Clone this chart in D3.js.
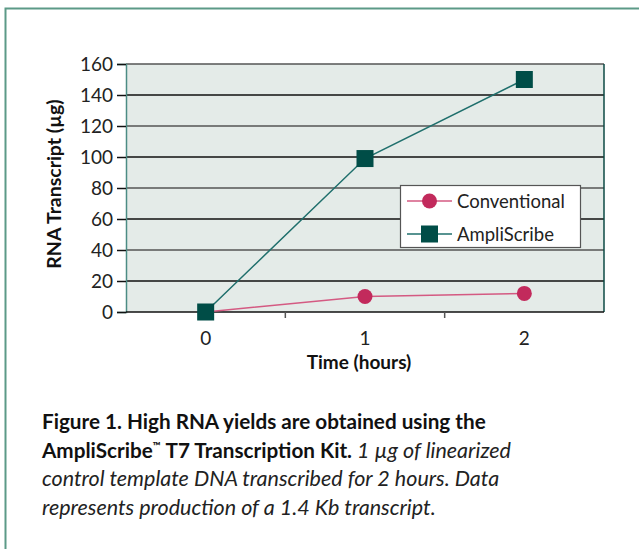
<!DOCTYPE html>
<html><head><meta charset="utf-8">
<script src="https://cdn.jsdelivr.net/npm/d3@7/dist/d3.min.js"></script>
<style>body{margin:0;background:#fff}svg{display:block}</style>
</head><body>
<svg id="c" width="639" height="549"></svg>
<script>
const categories = ["0", "1", "2"];
const conventional = [0, 10, 12];
const ampliscribe = [0, 99, 150];
const yTicks = [0, 20, 40, 60, 80, 100, 120, 140, 160];
const seriesNames = ["Conventional", "AmpliScribe"];
const captionLines = [
  [{t:"Figure 1. High RNA yields are obtained using the", b:true}],
  [{t:"AmpliScribe", b:true},{t:"™", b:true, sup:true},{t:" T7 Transcription Kit.", b:true, down:true},{t:" 1 µg of linearized", i:true}],
  [{t:"control template DNA transcribed for 2 hours. Data", i:true}],
  [{t:"represents production of a 1.4 Kb transcript.", i:true}]
];

const svg = d3.select("#c");
const L = 126, R = 604, T = 64, B = 312;
const font = "Lato, 'Open Sans', sans-serif";

// outer border
svg.append("path").attr("d", `M5.5,549 V8.5 H639`).attr("fill","none").attr("stroke","#5c9a87").attr("stroke-width",2);

const x = d3.scaleBand().domain(categories).range([L, R]).padding(0);
const y = d3.scaleLinear().domain([0, 160]).range([B, T]);
const cx = d => x(d) + x.bandwidth()/2;

svg.append("rect").attr("x", L).attr("y", T).attr("width", R-L).attr("height", B-T).attr("fill","#e4ebe8");

// gridlines
svg.append("g").selectAll("line").data(yTicks.filter(v=>v>0)).join("line")
  .attr("x1", L).attr("x2", R).attr("y1", d=>y(d)).attr("y2", d=>y(d))
  .attr("stroke", (d,i)=> i%2 ? "#555" : "#111").attr("stroke-width", 1.5);
// right border of plot
svg.append("line").attr("x1",R).attr("x2",R).attr("y1",T).attr("y2",B).attr("stroke","#0d4a44").attr("stroke-width",1.5);

// y axis
const yAxis = svg.append("g").attr("transform",`translate(${L},0)`)
  .call(d3.axisLeft(y).tickValues(yTicks).tickSize(9).tickPadding(4));
yAxis.select(".domain").attr("stroke","#4b8c84").attr("stroke-width",1.5);
yAxis.selectAll(".tick line").attr("stroke","#111").attr("stroke-width",1.5);
yAxis.selectAll("text").attr("font-family",font).attr("font-size",19).attr("fill","#222");

// x axis
const xAxis = svg.append("g").attr("transform",`translate(0,${B})`)
  .call(d3.axisBottom(x).tickSize(0).tickPadding(20));
xAxis.select(".domain").attr("stroke","#111").attr("stroke-width",1.5).attr("d",`M${L},0H${R}`);
xAxis.selectAll("text").attr("font-family",font).attr("font-size",19).attr("fill","#222");
svg.append("g").selectAll("line").data(categories.slice(1)).join("line")
  .attr("x1", d=>x(d)).attr("x2", d=>x(d)).attr("y1", B).attr("y2", B+6)
  .attr("stroke","#555").attr("stroke-width",1.5);

// series
const line = d3.line().x((d,i)=>cx(categories[i])).y(d=>y(d));
const conCol = "#c22a5c", conLine = "#d45a82";
const ampCol = "#004d47", ampLine = "#1f6f6c";
svg.append("path").datum(conventional).attr("d", line).attr("fill","none").attr("stroke",conLine).attr("stroke-width",1.5);
svg.append("path").datum(ampliscribe).attr("d", line).attr("fill","none").attr("stroke",ampLine).attr("stroke-width",1.5);
svg.append("g").selectAll("circle").data(conventional).join("circle")
  .attr("cx",(d,i)=>cx(categories[i])).attr("cy",d=>y(d)).attr("r",7.5).attr("fill",conCol);
svg.append("g").selectAll("rect").data(ampliscribe).join("rect")
  .attr("x",(d,i)=>cx(categories[i])-8.5).attr("y",d=>y(d)-8.5).attr("width",17).attr("height",17).attr("fill",ampCol);

// legend
const lg = svg.append("g");
lg.append("rect").attr("x",400.5).attr("y",185.5).attr("width",180).attr("height",62).attr("fill","#fff").attr("stroke","#555").attr("stroke-width",1.2);
[0,1].forEach(i=>{
  const yy = 201 + i*33;
  lg.append("line").attr("x1",407).attr("x2",452).attr("y1",yy).attr("y2",yy).attr("stroke", i?ampLine:conLine).attr("stroke-width",1.5);
  if(i===0) lg.append("circle").attr("cx",429.5).attr("cy",yy).attr("r",7.5).attr("fill",conCol);
  else lg.append("rect").attr("x",421).attr("y",yy-8.5).attr("width",17).attr("height",17).attr("fill",ampCol);
  lg.append("text").attr("x",457).attr("y",yy+6.5).text(seriesNames[i]).attr("font-family",font).attr("font-size",18.5).attr("fill","#222");
});

// axis titles
svg.append("text").attr("transform",`translate(61,${(T+B)/2-4}) rotate(-90)`).attr("text-anchor","middle")
  .attr("font-family",font).attr("font-weight","bold").attr("font-size",19.5).attr("fill","#111").text("RNA Transcript (µg)");
svg.append("text").attr("x",359).attr("y",369).attr("text-anchor","middle")
  .attr("font-family",font).attr("font-weight","bold").attr("font-size",19).attr("fill","#111").text("Time (hours)");

// caption
const cap = svg.append("g");
captionLines.forEach((ln,i)=>{
  const t = cap.append("text").attr("x",42).attr("y",429 + i*28.7).attr("font-family",font).attr("fill","#111");
  ln.forEach(s=>{
    const ts = t.append("tspan").text(s.t);
    if(s.b) ts.attr("font-weight","bold").attr("font-size",20.7);
    if(s.i) ts.attr("font-style","italic").attr("fill","#222").attr("font-size",21.5);
    if(s.sup) ts.attr("font-size",11).attr("dy",-8);
    if(s.down) ts.attr("dy",8);
  });
});
</script>
</body></html>
